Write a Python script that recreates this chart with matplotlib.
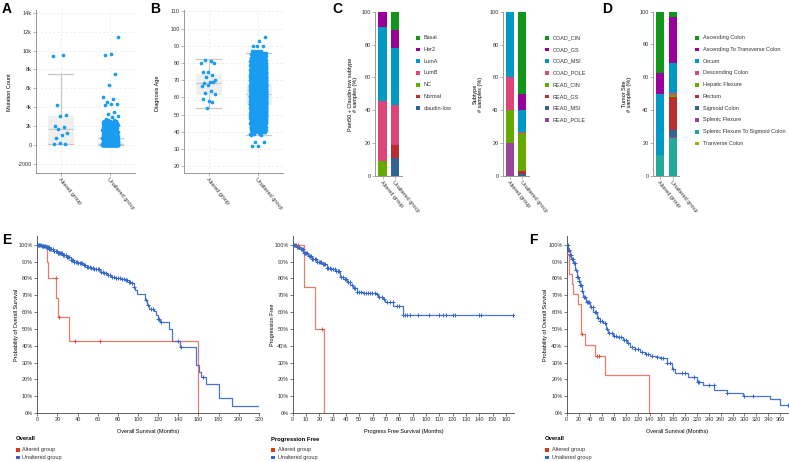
import numpy as np
import matplotlib
matplotlib.use('Agg')
import matplotlib.pyplot as plt
from matplotlib.patches import Rectangle

plt.rcParams['font.family'] = ['Liberation Sans', 'DejaVu Sans']
plt.rcParams['font.size'] = 4

# ---------------- DATA ----------------
groups = ['Altered group', 'Unaltered group']

# Panel A: Mutation count
mut_altered = [9420, 9490, 4200, 3200, 3060, 2000, 1950, 1680, 1270, 1100, 710, 150, 180, 100]
mut_unalt_outliers = [11460, 9630, 9500, 7510, 6320, 5110, 4900, 4500, 4380, 4350, 4200,
                      3540, 3260, 3050, 3000, 2750]
mut_unalt_levels = [0, 100, 200, 300, 400, 500, 600, 700, 800, 900, 1000, 1100, 1200, 1300,
                    1400, 1500, 1600, 1700, 1800, 1900, 2000, 2100, 2200, 2300, 2400, 2500, 2600]
mut_unalt_counts = [60, 40, 25, 15, 12, 10, 9, 8, 8, 7, 7, 6, 6, 6,
                    5, 5, 5, 5, 5, 5, 5, 4, 4, 4, 4, 3, 2]
mut_box_q1 = [100, 20]
mut_box_med = [1700, 120]
mut_box_q3 = [3050, 300]
mut_box_lo = [100, 0]
mut_box_hi = [7480, 720]

# Panel B: Diagnosis age
age_altered = [79.8, 81.0, 81.7, 79.8, 74.8, 75.0, 72.8, 71.7, 69.9, 69.0, 68.2, 68.7,
               67.4, 66.6, 63.9, 62.6, 61.8, 58.1, 59.1, 57.4, 53.9]
age_unalt_outliers = [94.9, 92.8, 90, 90, 90, 38, 38, 34, 34, 32, 32]
age_unalt_levels = [39, 40, 41, 42, 43, 44, 45, 46, 47, 48, 49, 50, 51, 52, 53, 54, 55, 56, 57,
                    58, 59, 60, 61, 62, 63, 64, 65, 66, 67, 68, 69, 70, 71, 72, 73, 74, 75, 76,
                    77, 78, 79, 80, 81, 82, 83, 84, 85, 86, 87]
age_unalt_counts = [3, 8, 12, 15, 18, 20, 24, 28, 32, 36, 40, 44, 48, 52, 55, 58, 60, 62, 64,
                    65, 66, 66, 66, 65, 64, 63, 62, 60, 58, 56, 54, 51, 48, 45, 42, 39, 36, 33,
                    30, 27, 24, 21, 18, 15, 12, 10, 8, 6, 4]
age_box_q1 = [62.0, 56.0]
age_box_med = [68.4, 61.8]
age_box_q3 = [73.5, 67.8]
age_box_lo = [53.9, 38.2]
age_box_hi = [82.1, 86.0]

# Panel C (left): Pam50 + Claudin-low subtype (%)
pam50_cats = ['Basal', 'Her2', 'LumA', 'LumB', 'NC', 'Normal', 'claudin-low']
pam50_colors = ['#109618', '#990099', '#0099c6', '#dd4477', '#66aa00', '#b82e2e', '#316395']
pam50_altered = [0, 9, 45.5, 36.5, 9, 0, 0]
pam50_unaltered = [11, 11, 35, 24, 0, 8, 11]

# Panel C (right): Subtype (%)
sub_cats = ['COAD_CIN', 'COAD_GS', 'COAD_MSI', 'COAD_POLE', 'READ_CIN', 'READ_GS', 'READ_MSI', 'READ_POLE']
sub_colors = ['#109618', '#990099', '#0099c6', '#dd4477', '#66aa00', '#b82e2e', '#316395', '#994499']
sub_altered = [0, 0, 40, 20, 20, 0, 0, 20]
sub_unaltered = [50, 10, 13, 1, 23, 2, 1, 0]

# Panel D: Tumor site (%)
site_cats = ['Ascending Colon', 'Ascending To Transverse Colon', 'Cecum', 'Descending Colon',
             'Hepatic Flexure', 'Rectum', 'Sigmoid Colon', 'Splenic Flexure',
             'Splenic Flexure To Sigmoid Colon', 'Tranverse Colon']
site_colors = ['#109618', '#990099', '#0099c6', '#dd4477', '#66aa00', '#b82e2e', '#316395',
               '#994499', '#22aa99', '#aaaa11']
site_altered = [37.5, 12.5, 37.5, 0, 0, 0, 0, 0, 12.5, 0]
site_unaltered = [3.5, 28, 18, 1.7, 0.8, 20, 4.5, 0.5, 23, 0]

# Panel E (left): Overall survival
e1_alt_t = [0, 9.3, 11, 18.6, 20.9, 31.8, 159.9]
e1_alt_s = [1.0, 0.90, 0.80, 0.686, 0.571, 0.429, 0.0]
e1_alt_cens = [18.2, 21.9, 37.4, 62.2]
e1_unalt_t = [0, 4, 8, 12, 16, 20, 25, 29, 33, 36, 40, 45, 49, 53, 56, 62, 66, 69, 73, 77, 83,
              87, 91, 94, 96, 97.5, 99, 105, 107, 108.6, 111, 116, 118, 120, 121.5, 131, 133.5,
              141.5, 157.5, 161, 163, 168, 180.5, 193.5, 220.5]
e1_unalt_s = [1.0, 0.995, 0.985, 0.972, 0.962, 0.952, 0.94, 0.929, 0.91, 0.895, 0.89, 0.878,
              0.87, 0.862, 0.853, 0.84, 0.83, 0.82, 0.81, 0.80, 0.795, 0.79, 0.78, 0.77, 0.75,
              0.73, 0.71, 0.705, 0.67, 0.64, 0.62, 0.605, 0.58, 0.56, 0.54, 0.50, 0.43, 0.395,
              0.285, 0.245, 0.215, 0.17, 0.087, 0.043, 0.043]
e1_unalt_cens = [0.5, 1.2, 2.0, 2.8, 3.5, 4.6, 5.3, 6.1, 7.0, 7.8, 8.6, 9.5, 10.3, 11.2, 12.0,
                 13.1, 14.0, 15.2, 16.1, 17.0, 18.3, 19.2, 20.4, 21.5, 22.6, 23.8, 24.7, 25.9,
                 27.0, 28.2, 29.5, 30.6, 31.8, 33.0, 34.2, 35.5, 36.8, 38.0, 39.3, 40.5, 42.0,
                 43.4, 44.8, 46.0, 47.5, 49.0, 50.5, 52.0, 53.6, 55.0, 56.7, 58.2, 59.8, 61.5,
                 63.0, 64.8, 66.5, 68.2, 70.0, 72.0, 74.5, 76.0, 78.5, 80.5, 82.5, 84.5, 86.0,
                 88.0, 89.5, 91.0, 92.5, 94.0, 96.5, 108.0, 110.0, 113.0, 114.5, 120.0, 121.0,
                 122.5, 140.0, 142.5, 165.0]

# Panel E (right): Progression free survival
e2_alt_t = [0, 8.75, 17, 23.5]
e2_alt_s = [1.0, 0.75, 0.50, 0.0]
e2_alt_cens = [3.75, 22.25]
e2_unalt_t = [0, 3, 5.5, 8, 11.75, 14.25, 18, 21.75, 25.5, 28, 31.75, 35.5, 38, 40.5, 43, 45.5,
              48.5, 53, 61.75, 64.25, 68, 69.25, 75.5, 82.5, 166]
e2_unalt_s = [1.0, 0.985, 0.972, 0.95, 0.933, 0.913, 0.90, 0.883, 0.86, 0.853, 0.845, 0.81,
              0.795, 0.78, 0.76, 0.74, 0.72, 0.715, 0.707, 0.69, 0.68, 0.66, 0.636, 0.58, 0.58]
e2_unalt_cens = [0.4, 1.1, 1.9, 2.6, 3.4, 4.2, 5.0, 5.9, 6.7, 7.5, 8.4, 9.2, 10.1, 11.0, 11.9,
                 12.8, 13.7, 14.6, 15.6, 16.5, 17.4, 18.4, 19.4, 20.4, 21.4, 22.4, 23.5, 24.6,
                 25.7, 26.8, 27.9, 29.0, 30.2, 31.4, 32.6, 33.8, 35.0, 36.3, 37.6, 38.9, 40.2,
                 41.5, 42.9, 44.3, 45.7, 47.1, 48.6, 50.1, 51.6, 53.2, 54.8, 56.4, 58.0, 59.7,
                 61.4, 63.1, 64.9, 66.7, 68.5, 70.5, 73.0, 75.0, 78.0, 80.0, 83.0, 84.0, 86.0,
                 88.0, 94.0, 102.0, 110.0, 113.0, 115.0, 120.0, 122.0, 140.0, 141.0, 165.0]

# Panel F: Overall survival
f_alt_t = [0, 0.3, 4.5, 8.4, 11.3, 18.6, 24.2, 30.9, 47.8, 64.6, 139.4]
f_alt_s = [1.0, 0.944, 0.826, 0.764, 0.705, 0.648, 0.469, 0.404, 0.339, 0.224, 0.0]
f_alt_cens = [0.6, 25.3, 50.6, 54.0]
f_unalt_t = [0, 2, 5.6, 8, 11.3, 14, 16.9, 20, 22.5, 25, 28.1, 33, 39.4, 45, 50.6, 56, 61.9, 66,
             70.3, 78, 84.4, 95, 101.3, 106.9, 115, 123.8, 132, 140.6, 150, 157.5, 168.8, 177.2,
             182.8, 205.3, 219.4, 230.6, 248.6, 270, 298, 343, 360, 373]
f_unalt_s = [1.0, 0.97, 0.939, 0.915, 0.889, 0.85, 0.81, 0.785, 0.76, 0.725, 0.691, 0.66, 0.632,
             0.60, 0.563, 0.545, 0.533, 0.50, 0.473, 0.46, 0.453, 0.435, 0.418, 0.394, 0.38,
             0.364, 0.35, 0.339, 0.332, 0.325, 0.295, 0.259, 0.24, 0.216, 0.187, 0.167, 0.137,
             0.121, 0.103, 0.081, 0.048, 0.048]
f_unalt_cens = [0.5, 1.5, 2.5, 3.5, 4.5, 6.0, 7.0, 9.0, 10.5, 12.0, 13.5, 15.0, 17.5, 19.0,
                21.0, 23.0, 24.5, 26.5, 29.0, 31.0, 33.5, 36.0, 38.0, 41.0, 44.0, 47.0, 50.0,
                53.0, 57.0, 60.0, 64.0, 68.0, 72.0, 76.0, 80.0, 84.0, 88.0, 92.0, 97.0, 100.0,
                104.0, 110.0, 116.0, 121.0, 127.0, 133.0, 138.0, 144.0, 152.0, 160.0, 163.0,
                170.0, 175.0, 180.0, 195.0, 200.0, 215.0, 222.0, 224.0, 240.0, 248.0, 270.0,
                300.0, 315.0, 373.0]

# ---------------- LAYOUT HELPERS ----------------
W, H = 789, 462
fig = plt.figure(figsize=(W / 100, H / 100), dpi=100)


def add_ax(l, t, r, b):
    return fig.add_axes([l / W, 1 - b / H, (r - l) / W, (b - t) / H])


def ftext(x, y, s, **kw):
    fig.text(x / W, 1 - y / H, s, **kw)


def fsquare(x, y, color, size=3.6):
    fig.add_artist(Rectangle(((x - size / 2) / W, 1 - (y + size / 2) / H), size / W, size / H,
                             transform=fig.transFigure, color=color, lw=0))


AXC = '#999999'
PT = '#1a9cf0'


def style_axes(ax, color=AXC):
    for s in ['top', 'right']:
        ax.spines[s].set_visible(False)
    for s in ['left', 'bottom']:
        ax.spines[s].set_color(color)
        ax.spines[s].set_linewidth(0.7)
    ax.tick_params(length=2, width=0.5, color=color, labelsize=4, pad=1, labelcolor='#333333')


def jitter(n, width=0.15):
    return ((np.arange(n) * 0.618034) % 1 - 0.5) * 2 * width


def box_panel(ax, q1, med, q3, lo, hi, alt_vals, unalt_levels, unalt_counts, unalt_out):
    stats = []
    for i in range(2):
        stats.append(dict(q1=q1[i], med=med[i], q3=q3[i], whislo=lo[i], whishi=hi[i], fliers=[]))
    ax.bxp(stats, positions=[0, 1], widths=0.5, patch_artist=True, showfliers=False,
           boxprops=dict(facecolor='#efefef', edgecolor='#efefef', lw=0.5),
           medianprops=dict(color='#c8c8c8', lw=0.8),
           whiskerprops=dict(color='#c8c8c8', lw=0.9),
           capprops=dict(color='#c8c8c8', lw=0.9), capwidths=0.5, zorder=1)
    a = np.array(alt_vals, dtype=float)
    ax.scatter(jitter(len(a)), a, s=7, color=PT, lw=0, zorder=3)
    u = np.concatenate([np.repeat(np.array(unalt_levels, dtype=float), unalt_counts),
                        np.array(unalt_out, dtype=float)])
    ax.scatter(1 + jitter(len(u), 0.16), u, s=7, color=PT, lw=0, zorder=3)
    ax.set_xlim(-0.5, 1.5)
    ax.set_xticks([0, 1])
    ax.set_xticklabels(groups, rotation=-50, ha='left', va='top', rotation_mode='anchor')
    ax.grid(True, color='#e6e6e6', lw=0.5, ls=(0, (3, 3)))
    ax.set_axisbelow(True)
    style_axes(ax)


# ---------------- PANEL A ----------------
axA = add_ax(36, 10, 135, 173)
box_panel(axA, mut_box_q1, mut_box_med, mut_box_q3, mut_box_lo, mut_box_hi,
          mut_altered, mut_unalt_levels, mut_unalt_counts, mut_unalt_outliers)
axA.set_ylim(-2963, 14286)
yt = [-2000, 0, 2000, 4000, 6000, 8000, 10000, 12000, 14000]
axA.set_yticks(yt)
axA.set_yticklabels(['-2000', '0', '2k', '4k', '6k', '8k', '10k', '12k', '14k'])
ftext(9.5, 92, 'Mutation Count', rotation=90, ha='center', va='center', fontsize=4)
ftext(2, 2, 'A', fontsize=10, fontweight='bold', va='top', ha='left')

# ---------------- PANEL B ----------------
axB = add_ax(184, 10, 283, 173)
box_panel(axB, age_box_q1, age_box_med, age_box_q3, age_box_lo, age_box_hi,
          age_altered, age_unalt_levels, age_unalt_counts, age_unalt_outliers)
axB.set_ylim(16.1, 110.75)
axB.set_yticks(range(20, 111, 10))
ftext(157, 93, 'Diagnosis Age', rotation=90, ha='center', va='center', fontsize=4)
ftext(150, 2, 'B', fontsize=10, fontweight='bold', va='top', ha='left')


# ---------------- STACKED BARS ----------------
def stacked(ax, cats, colors, alt, unalt):
    vals = [alt, unalt]
    for gi in range(2):
        bottom = 0
        for ci in reversed(range(len(cats))):
            v = vals[gi][ci]
            if v > 0:
                ax.bar(gi, v, bottom=bottom, width=0.66, color=colors[ci], lw=0)
            bottom += v
    ax.set_xlim(-0.6, 1.5)
    ax.set_ylim(0, 100)
    ax.set_yticks(range(0, 101, 20))
    ax.set_xticks([0, 1])
    ax.set_xticklabels(groups, rotation=-50, ha='left', va='top', rotation_mode='anchor')
    style_axes(ax)


def legend_col(x, y0, cats, colors, dy=11.75):
    for i, (c, col) in enumerate(zip(cats, colors)):
        fsquare(x, y0 + i * dy, col)
        ftext(x + 6, y0 + i * dy, c, fontsize=4, va='center', ha='left', color='#333333')


axC1 = add_ax(375, 12, 401.5, 175.7)
stacked(axC1, pam50_cats, pam50_colors, pam50_altered, pam50_unaltered)
ftext(353, 94, 'Pam50 + Claudin-low subtype\n# samples (%)', rotation=90, ha='center',
      va='center', fontsize=4, linespacing=1.0, multialignment='center')
legend_col(418, 37.7, pam50_cats, pam50_colors)
ftext(332, 2, 'C', fontsize=10, fontweight='bold', va='top', ha='left')

axC2 = add_ax(502.7, 12, 528.5, 175.7)
stacked(axC2, sub_cats, sub_colors, sub_altered, sub_unaltered)
ftext(478, 94, 'Subtype\n# samples (%)', rotation=90, ha='center', va='center', fontsize=4,
      linespacing=1.0, multialignment='center')
legend_col(546.7, 37.7, sub_cats, sub_colors)

axD = add_ax(652.7, 11.5, 679.3, 175.5)
stacked(axD, site_cats, site_colors, site_altered, site_unaltered)
ftext(627, 94, 'Tumor Site\n# samples (%)', rotation=90, ha='center', va='center', fontsize=4,
      linespacing=1.0, multialignment='center')
legend_col(696.7, 37.7, site_cats, site_colors)
ftext(602, 2, 'D', fontsize=10, fontweight='bold', va='top', ha='left')

# ---------------- KM PANELS ----------------
RED = '#e0503a'
BLUE = '#3366cc'


def step_val(t, s, x):
    t = np.asarray(t)
    s = np.asarray(s)
    idx = np.searchsorted(t, x, side='right') - 1
    return s[np.clip(idx, 0, len(s) - 1)]


def km(ax, curves, xmax, xstep, xlabel, ylabel, ylab_x, legend_title, left_px):
    for (t, s, cens, col, a) in curves:
        ax.step(t, s, where='post', color=col, lw=0.9, alpha=a, zorder=2)
        c = np.asarray(cens, dtype=float)
        ax.plot(c, step_val(t, s, c), ls='none', marker='+', ms=2.6, mew=0.7, color=col, zorder=3)
    ax.set_xlim(0, xmax)
    ax.set_ylim(0, 1.05)
    ax.set_yticks(np.arange(0, 1.01, 0.1))
    ax.set_yticklabels(['%d%%' % v for v in range(0, 101, 10)])
    ax.set_xticks(np.arange(0, xmax + 0.01, xstep))
    style_axes(ax, color='#444444')
    ax.spines['left'].set_linewidth(0.6)
    ax.spines['bottom'].set_linewidth(0.6)
    x0, x1 = ax.get_position().x0 * W, ax.get_position().x1 * W
    ftext((x0 + x1) / 2, 431, xlabel, ha='center', va='center', fontsize=4)
    ftext(ylab_x, 325, ylabel, rotation=90, ha='center', va='center', fontsize=4)
    ftext(left_px - 22, 439, legend_title, ha='left', va='center', fontsize=4.2, fontweight='bold')
    fsquare(left_px - 19.5, 450, '#dc3912')
    fsquare(left_px - 19.5, 457.3, BLUE)
    ftext(left_px - 15, 450, 'Altered group', ha='left', va='center', fontsize=4, color='#333333')
    ftext(left_px - 15, 457.3, 'Unaltered group', ha='left', va='center', fontsize=4, color='#333333')


axE1 = add_ax(37.3, 236.3, 259.3, 413)
km(axE1, [(e1_unalt_t, e1_unalt_s, e1_unalt_cens, BLUE, 0.9),
          (e1_alt_t, e1_alt_s, e1_alt_cens, RED, 0.75)],
   220.5, 20, 'Overall Survival (Months)', 'Probability of Overall Survival', 16.7, 'Overall', 37.3)
ftext(2, 233, 'E', fontsize=10, fontweight='bold', va='top', ha='left')

axE2 = add_ax(292.7, 236.3, 514, 413)
km(axE2, [(e2_unalt_t, e2_unalt_s, e2_unalt_cens, BLUE, 0.9),
          (e2_alt_t, e2_alt_s, e2_alt_cens, RED, 0.75)],
   166, 10, 'Progress Free Survival (Months)', 'Progression Free', 272.7, 'Progression Free', 292.7)

axF = add_ax(566.7, 236.3, 787.7, 413)
km(axF, [(f_unalt_t, f_unalt_s, f_unalt_cens, BLUE, 0.9),
         (f_alt_t, f_alt_s, f_alt_cens, RED, 0.75)],
   373, 20, 'Overall Survival (Months)', 'Probability of Overall Survival', 546, 'Overall', 566.7)
ftext(529, 233, 'F', fontsize=10, fontweight='bold', va='top', ha='left')

fig.savefig('out.png', dpi=100)
